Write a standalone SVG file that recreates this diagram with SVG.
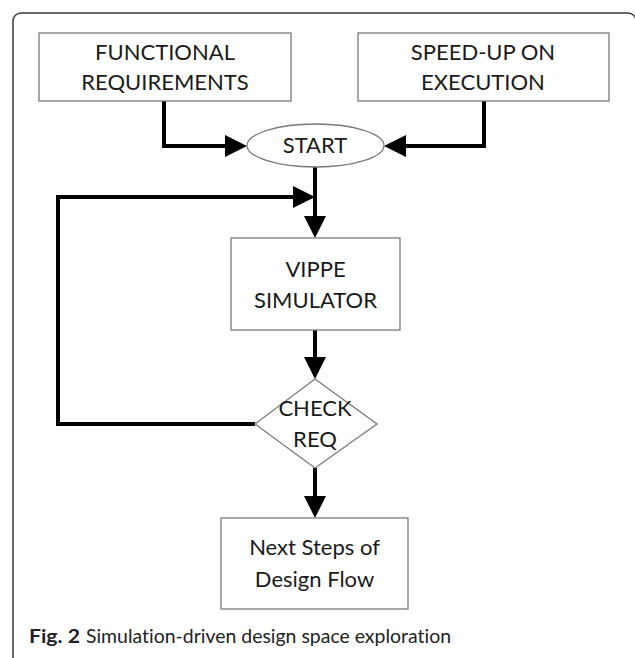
<svg xmlns="http://www.w3.org/2000/svg" width="635" height="658" viewBox="0 0 635 658">
  <style>
    .box { fill: #ffffff; stroke: #7a7a7a; stroke-width: 1.3; }
    .lbl { font-family: Lato, "Open Sans", "Liberation Sans", sans-serif; font-size: 22px; fill: #1a1a1a; text-anchor: middle; }
    .wire { fill: none; stroke: #000000; stroke-width: 4; stroke-linejoin: miter; marker-end: url(#head); }
    .cap { font-family: Lato, "Open Sans", "Liberation Sans", sans-serif; font-size: 19px; fill: #222222; font-variant-ligatures: none; }
  </style>
  <defs>
    <marker id="head" markerUnits="userSpaceOnUse" viewBox="0 0 22 22" refX="12" refY="11" markerWidth="22" markerHeight="22" orient="auto">
      <path d="M0,0 L22,11 L0,22 Z" fill="#000000"/>
    </marker>
  </defs>

  <rect width="635" height="658" fill="#ffffff"/>

  <!-- figure frame, open at the bottom and right -->
  <path d="M13,658 V21 A8,8 0 0 1 21,13 H628 A8,8 0 0 1 636,21 V658" fill="none" stroke="#3a3a3a" stroke-width="1.5"/>

  <g id="connectors">
    <path class="wire" d="M164,101 V146 H237"/>
    <path class="wire" d="M484,101 V146 H394"/>
    <path class="wire" d="M315,167 V228"/>
    <path class="wire" d="M255,424 H58 V197 H305"/>
    <path class="wire" d="M315,330 V369"/>
    <path class="wire" d="M315,468 V508"/>
  </g>

  <g id="functional-requirements">
    <rect class="box" x="39" y="33" width="252" height="68"/>
    <text class="lbl" x="165" y="60">FUNCTIONAL</text>
    <text class="lbl" x="165" y="90">REQUIREMENTS</text>
  </g>

  <g id="speed-up">
    <rect class="box" x="358" y="33" width="251" height="68"/>
    <text class="lbl" x="483" y="60">SPEED-UP ON</text>
    <text class="lbl" x="483" y="90">EXECUTION</text>
  </g>

  <g id="start">
    <ellipse class="box" cx="315.5" cy="145.5" rx="68.5" ry="21.5"/>
    <text class="lbl" x="315" y="153">START</text>
  </g>

  <g id="vippe-simulator">
    <rect class="box" x="231" y="238" width="169" height="92"/>
    <text class="lbl" x="315.5" y="277">VIPPE</text>
    <text class="lbl" x="315.5" y="308">SIMULATOR</text>
  </g>

  <g id="check-req">
    <polygon class="box" points="315,379 377,424 315,468 255,424"/>
    <text class="lbl" x="315" y="416">CHECK</text>
    <text class="lbl" x="315" y="447">REQ</text>
  </g>

  <g id="next-steps">
    <rect class="box" x="221" y="518" width="187" height="91"/>
    <text class="lbl" x="314.5" y="555">Next Steps of</text>
    <text class="lbl" x="314.5" y="587">Design Flow</text>
  </g>

  <g id="caption">
    <text class="cap" x="29" y="643" font-weight="bold" textLength="51" lengthAdjust="spacingAndGlyphs">Fig. 2</text>
    <text class="cap" x="86" y="643" textLength="365" lengthAdjust="spacingAndGlyphs">Simulation-driven design space exploration</text>
  </g>
</svg>
